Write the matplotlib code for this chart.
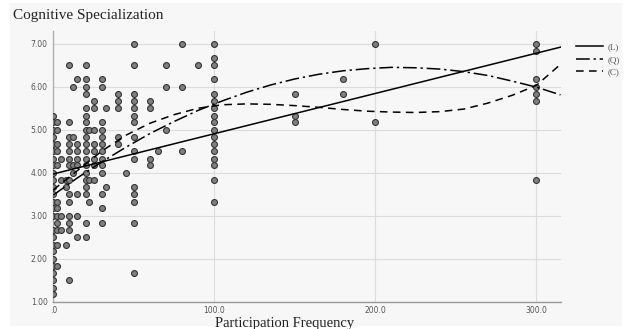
import matplotlib
matplotlib.use("Agg")
import matplotlib.pyplot as plt
from matplotlib.patches import Rectangle
from matplotlib.lines import Line2D

# ---- data ----
column_freq = [0, 2, 5, 8, 10, 12, 15, 20, 22, 25, 30, 33, 40, 45, 50, 60, 65, 70, 80, 90,
               100, 150, 180, 200, 300]
column_spec = [
    [1.17, 1.33, 1.5, 1.67, 1.83, 2.0, 2.17, 2.33, 2.5, 2.67, 3.0, 3.17, 3.33, 3.5, 3.67,
     3.83, 4.0, 4.17, 4.33, 4.5, 4.67, 4.83, 5.0, 5.17, 5.33],
    [5.17, 5.0, 4.67, 4.5, 4.17, 3.33, 3.17, 3.0, 2.83, 2.67, 2.33, 1.83],
    [4.33, 3.83, 3.0, 2.67],
    [3.83, 3.67, 2.33],
    [6.5, 5.17, 4.83, 4.67, 4.5, 4.33, 4.17, 3.83, 3.5, 3.33, 3.0, 2.83, 2.67, 1.5],
    [6.0, 4.83, 4.17, 4.0],
    [6.17, 4.67, 4.5, 4.33, 4.17, 3.5, 3.0, 2.5],
    [6.5, 6.17, 6.0, 5.83, 5.5, 5.33, 5.17, 5.0, 4.83, 4.67, 4.5, 4.33, 4.17, 4.0, 3.83,
     3.67, 3.5, 2.83, 2.5],
    [5.0, 3.83, 3.33],
    [5.67, 5.5, 5.0, 4.67, 4.5, 4.33, 4.17, 3.83],
    [6.17, 6.0, 5.17, 5.0, 4.83, 4.67, 4.5, 4.33, 4.17, 4.0, 3.5, 3.17, 2.83],
    [5.5, 3.67],
    [5.83, 5.67, 5.5, 4.83, 4.67],
    [4.0],
    [7.0, 6.5, 5.83, 5.67, 5.5, 5.33, 5.17, 4.83, 4.5, 4.33, 3.67, 3.5, 3.33, 2.83, 1.67],
    [5.67, 5.5, 4.33, 4.17],
    [4.5],
    [6.5, 6.0, 5.0],
    [7.0, 6.0, 4.5],
    [6.5],
    [7.0, 6.67, 6.5, 6.17, 5.83, 5.67, 5.5, 5.33, 5.17, 5.0, 4.83, 4.67, 4.5, 4.33, 4.17,
     3.83, 3.33],
    [5.83, 5.33, 5.17],
    [6.17, 5.83],
    [7.0, 5.17],
    [7.0, 6.83, 6.17, 6.0, 5.83, 5.67, 3.83],
]

# fitted curves
lin_x = [0, 315]
lin_y = [3.97, 6.92]
fit_x = [0, 15, 30, 45, 60, 75, 90, 105, 120, 135, 150, 165, 180, 195, 210, 225, 240,
         255, 270, 285, 300, 315]
quad_y = [3.48, 3.88, 4.25, 4.59, 4.91, 5.19, 5.45, 5.67, 5.87, 6.04, 6.18, 6.29, 6.37,
          6.42, 6.45, 6.44, 6.41, 6.35, 6.26, 6.13, 5.99, 5.81]
cubic_y = [3.6, 4.05, 4.5, 4.87, 5.15, 5.35, 5.5, 5.58, 5.6, 5.59, 5.56, 5.52, 5.47,
           5.43, 5.41, 5.40, 5.42, 5.48, 5.62, 5.8, 6.03, 6.52]

x_ticks = [0, 100, 200, 300]
x_tick_labels = [".0", "100.0", "200.0", "300.0"]
y_ticks = [1, 2, 3, 4, 5, 6, 7]
y_tick_labels = ["1.00", "2.00", "3.00", "4.00", "5.00", "6.00", "7.00"]
legend_labels = ["(L)", "(Q)", "(C)"]

freq = [x for x, ys in zip(column_freq, column_spec) for _ in ys]
spec = [y for ys in column_spec for y in ys]

W, H = 626, 329
fig = plt.figure(figsize=(W / 100, H / 100), dpi=100)
fig.patch.set_facecolor("white")
fig.patches.append(Rectangle((10 / W, 3 / H), (622 - 10) / W, (326 - 3) / H,
                             transform=fig.transFigure, facecolor="#f7f7f7",
                             edgecolor="none", zorder=-10))

ax = fig.add_axes([53.3 / W, (H - 301.7) / H, (561 - 53.3) / W, (301.7 - 30.8) / H])
ax.set_zorder(1)
ax.set_facecolor("#f7f7f7")
ax.set_xlim(0, 315.3)
ax.set_ylim(1.0, 7.3)

ax.set_xticks(x_ticks)
ax.set_xticklabels(x_tick_labels)
ax.set_yticks(y_ticks)
ax.set_yticklabels(y_tick_labels)
ax.tick_params(axis="both", length=0, labelsize=5.5, labelcolor="#555555")
ax.tick_params(axis="y", pad=4)
ax.tick_params(axis="x", pad=3)

ax.grid(True, color="#dcdcdc", linewidth=0.8)
ax.set_axisbelow(True)
for s in ["top", "right"]:
    ax.spines[s].set_visible(False)
ax.spines["left"].set_color("#aaaaaa")
ax.spines["bottom"].set_color("#999999")
ax.spines["left"].set_linewidth(0.9)
ax.spines["bottom"].set_linewidth(1.0)

ax.scatter(freq, spec, s=18, facecolor="#808080", edgecolor="#333333",
           linewidth=0.8, zorder=3)

lw = 1.1
ax.plot(lin_x, lin_y, color="black", linewidth=lw, zorder=4)
ax.plot(fit_x, quad_y, color="black", linewidth=lw, dashes=(9, 2.5, 1.5, 2.5), zorder=4)
ax.plot(fit_x, cubic_y, color="black", linewidth=lw, dashes=(5, 3.5), zorder=4)

handles = [Line2D([], [], color="black", linewidth=lw),
           Line2D([], [], color="black", linewidth=lw, dashes=(9, 2.5, 1.5, 2.5)),
           Line2D([], [], color="black", linewidth=lw, dashes=(5, 3.5))]
fig.legend(handles, legend_labels, loc="upper left",
           bbox_to_anchor=(570 / W, (H - 37) / H), frameon=False,
           prop={"family": "Liberation Serif", "size": 6.5}, labelcolor="#555555",
           handlelength=3.0, handletextpad=0.5, labelspacing=0.45, borderpad=0.2)

fig.text(13 / W, (H - 16) / H, "Cognitive Specialization", family="Liberation Serif",
         fontsize=11, color="#222222", ha="left", va="center")
fig.text(285 / W, (H - 323.5) / H, "Participation Frequency", family="Liberation Serif",
         fontsize=10.5, color="#222222", ha="center", va="center")

fig.savefig("out.png", dpi=100, facecolor="white")
